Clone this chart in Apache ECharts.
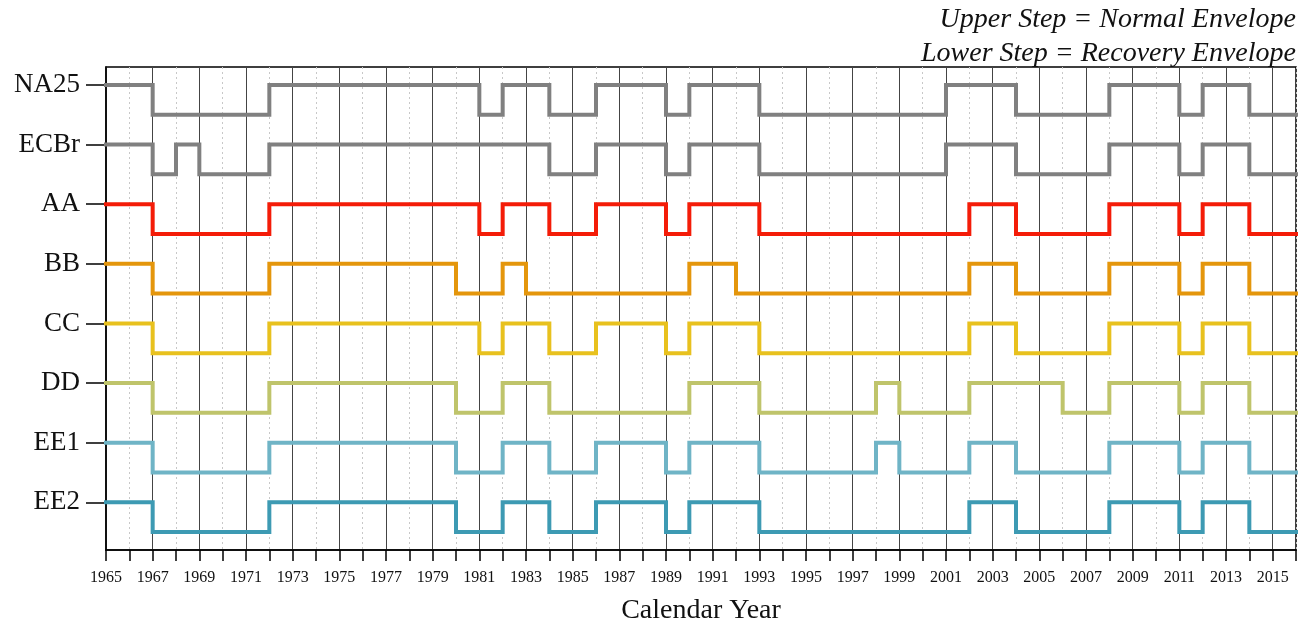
<!DOCTYPE html>
<html>
<head>
<meta charset="utf-8">
<script src="https://cdn.jsdelivr.net/npm/echarts@6/dist/echarts.min.js"></script>
<style>html,body{margin:0;padding:0;background:#fff}#c{width:1302px;height:623px}</style>
</head>
<body>
<div id="c"></div>
<script>
// Categories (top to bottom)
const categories = ['NA25', 'ECBr', 'AA', 'BB', 'CC', 'DD', 'EE1', 'EE2'];
// Periods at the upper step (Normal Envelope); all other years are at the lower step
const upperNA25 = [[1965,1967],[1972,1981],[1982,1984],[1986,1989],[1990,1993],[2001,2004],[2008,2011],[2012,2014]];
const upperECBr = [[1965,1967],[1968,1969],[1972,1984],[1986,1989],[1990,1993],[2001,2004],[2008,2011],[2012,2014]];
const upperAA   = [[1965,1967],[1972,1981],[1982,1984],[1986,1989],[1990,1993],[2002,2004],[2008,2011],[2012,2014]];
const upperBB   = [[1965,1967],[1972,1980],[1982,1983],[1990,1992],[2002,2004],[2008,2011],[2012,2014]];
const upperCC   = [[1965,1967],[1972,1981],[1982,1984],[1986,1989],[1990,1993],[2002,2004],[2008,2011],[2012,2014]];
const upperDD   = [[1965,1967],[1972,1980],[1982,1984],[1990,1993],[1998,1999],[2002,2006],[2008,2011],[2012,2014]];
const upperEE1  = [[1965,1967],[1972,1980],[1982,1984],[1986,1989],[1990,1993],[1998,1999],[2002,2004],[2008,2011],[2012,2014]];
const upperEE2  = [[1965,1967],[1972,1980],[1982,1984],[1986,1989],[1990,1993],[2002,2004],[2008,2011],[2012,2014]];
const upperPeriods = [upperNA25, upperECBr, upperAA, upperBB, upperCC, upperDD, upperEE1, upperEE2];
const colors = ['#808080', '#808080', '#f41c08', '#e4960c', '#e8c11e', '#bfc46b', '#6fb4c6', '#3d9ab3'];
const startYear = 1965, endYear = 2016;

function isUpper(periods, y) {
  return periods.some(p => y >= p[0] && y < p[1]);
}
const years = [];
for (let y = startYear; y <= endYear; y++) years.push(y);

const n = categories.length;
const series = categories.map((name, i) => {
  const level = n - 1 - i;
  const periods = upperPeriods[i];
  const data = years.map(y => {
    const yy = y === endYear ? endYear - 1 : y;
    return [y, isUpper(periods, yy) ? level : level - 0.5];
  });
  return {
    name: name, type: 'line', step: 'end', data: data,
    symbol: 'none', xAxisIndex: 0, yAxisIndex: 0,
    lineStyle: { color: colors[i], width: 4, cap: 'square', join: 'miter' },
    z: 5
  };
});

const chart = echarts.init(document.getElementById('c'));
chart.setOption({
  animation: false,
  textStyle: { fontFamily: 'Liberation Serif' },
  title: [
    { text: 'Upper Step = Normal Envelope', right: 6, top: 6, padding: 0,
      textStyle: { fontFamily: 'Liberation Serif', fontStyle: 'italic', fontWeight: 'normal', fontSize: 28, color: '#111' } },
    { text: 'Lower Step = Recovery Envelope', right: 6, top: 40, padding: 0,
      textStyle: { fontFamily: 'Liberation Serif', fontStyle: 'italic', fontWeight: 'normal', fontSize: 28, color: '#111' } }
  ],
  grid: { left: 106, right: 6, top: 67, bottom: 73, show: true, borderColor: '#000', borderWidth: 1.5,
          backgroundColor: 'transparent', outerBoundsMode: 'none', containLabel: false },
  xAxis: [
    {
      type: 'value', min: startYear, max: endYear, interval: 1,
      name: 'Calendar Year', nameLocation: 'middle', nameGap: 47,
      nameTextStyle: { fontFamily: 'Liberation Serif', fontSize: 28, color: '#111' },
      axisLine: { show: true, onZero: false, lineStyle: { color: '#000', width: 1.5 } },
      axisTick: { show: true, length: 11, lineStyle: { color: '#000', width: 1.5 } },
      axisLabel: {
        fontFamily: 'Liberation Serif', fontSize: 16, color: '#111', margin: 20,
        formatter: v => ((v - startYear) % 2 === 0 && v < endYear) ? String(v) : ''
      },
      splitLine: { show: true, lineStyle: { color: ['#444', 'rgba(0,0,0,0)'], width: 1, type: 'solid' } }
    },
    {
      type: 'value', min: startYear, max: endYear, interval: 1,
      position: 'bottom',
      axisLine: { show: false, onZero: false }, axisTick: { show: false }, axisLabel: { show: false },
      splitLine: { show: true, lineStyle: { color: ['rgba(0,0,0,0)', '#c8c8c8'], width: 1, type: [2, 3] } }
    }
  ],
  yAxis: {
    type: 'value', min: -0.8, max: 7.3,
    axisLine: { show: true, onZero: false, lineStyle: { color: '#000', width: 1.5 } },
    axisTick: { show: true, length: 20, customValues: [0,1,2,3,4,5,6,7], lineStyle: { color: '#000', width: 1.5 } },
    axisLabel: {
      customValues: [0,1,2,3,4,5,6,7],
      fontFamily: 'Liberation Serif', fontSize: 27, color: '#111', margin: 26,
      padding: [6, 0, 0, 0],
      formatter: v => categories[n - 1 - Math.round(v)]
    },
    splitLine: { show: false }
  },
  series: series
});
</script>
</body>
</html>
